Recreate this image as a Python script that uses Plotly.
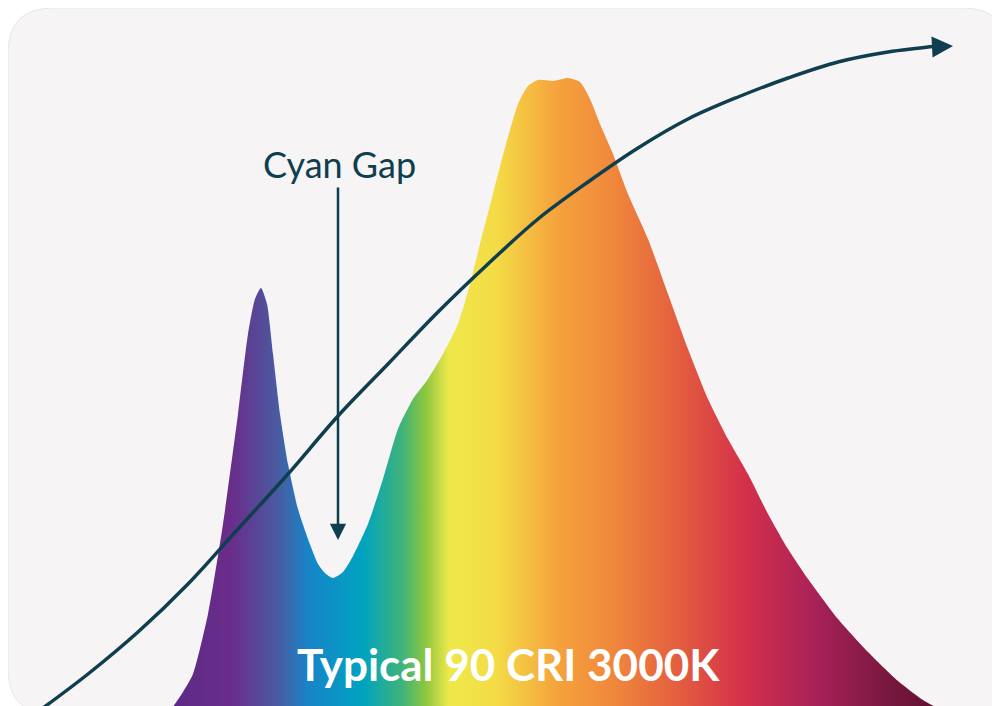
import plotly.graph_objects as go

# Canvas coords: x 0..1000 left->right, y 0..706 bottom->top
W, H = 1000, 706

# spectrum outline (x px, height above bottom px)
spec_x = [160, 175, 185, 200, 215, 230, 240, 247, 253, 259, 265, 272, 280, 290, 300, 310, 318, 325,
          335, 345, 360, 375, 390, 405, 420, 435, 450, 462, 472, 485, 498, 510, 520, 530, 545,
          560, 572, 582, 592, 605, 620, 640, 660, 680, 700, 720, 740, 760, 780, 800, 830,
          860, 890, 915, 940]
spec_y = [0, 22, 40, 100, 190, 300, 380, 415, 426, 410, 360, 300, 250, 205, 175, 150, 140, 136,
          142, 158, 190, 235, 285, 315, 335, 360, 390, 430, 470, 520, 570, 610, 628, 634, 633,
          636, 632, 615, 590, 560, 520, 475, 420, 365, 315, 275, 240, 200, 165, 135, 95,
          62, 33, 14, 0]

# the s-curve
curve_x = [35, 80, 130, 180, 230, 280, 330, 380, 430, 480, 530, 580, 630, 680, 730, 780, 830, 880, 930]
curve_y = [6, 40, 82, 130, 185, 240, 298, 350, 402, 450, 495, 532, 566, 595, 617, 636, 652, 662, 668]

spec_colors = [
    [0.00, "#5B2A86"], [0.08, "#6A2C8A"], [0.14, "#4A5AA0"], [0.18, "#1784C8"],
    [0.25, "#00A3C0"], [0.30, "#3FB37A"], [0.33, "#8CC63F"], [0.36, "#EEE84A"],
    [0.42, "#F4DC46"], [0.50, "#F5A23C"], [0.57, "#F0883C"], [0.65, "#E4603E"],
    [0.74, "#D4304B"], [0.83, "#A82158"], [0.92, "#7A1840"], [1.00, "#5A0F2A"],
]

fig = go.Figure()
fig.add_trace(go.Scatter(
    x=spec_x, y=spec_y, mode="lines", line=dict(width=0, shape="spline", smoothing=0.6),
    fill="tozeroy", fillgradient=dict(type="horizontal", colorscale=spec_colors),
    hoverinfo="skip"))
fig.add_trace(go.Scatter(
    x=curve_x, y=curve_y, mode="lines", line=dict(color="#0F3E4F", width=3.5, shape="spline"),
    hoverinfo="skip"))

# arrow tip on the curve
fig.add_annotation(x=945, y=668, ax=925, ay=667, xref="x", yref="y", axref="x", ayref="y",
                   showarrow=True, arrowhead=2, arrowsize=1.2, arrowwidth=3.5,
                   arrowcolor="#0F3E4F", text="")
# cyan gap pointer
fig.add_annotation(x=330, y=174, ax=330, ay=528, xref="x", yref="y", axref="x", ayref="y",
                   showarrow=True, arrowhead=2, arrowsize=1.3, arrowwidth=2.5,
                   arrowcolor="#0F3E4F", text="")
fig.add_annotation(x=331, y=550, text="Cyan Gap", showarrow=False,
                   font=dict(family="Lato", size=36, color="#0F3E4F"))
fig.add_annotation(x=500, y=50, text="<b>Typical 90 CRI 3000K</b>", showarrow=False,
                   font=dict(family="Lato", size=44, color="white"))

r = 45
path = (f"M {r},0 L {W-r},0 Q {W},0 {W},{r} L {W},{H-r} Q {W},{H} {W-r},{H} "
        f"L {r},{H} Q 0,{H} 0,{H-r} L 0,{r} Q 0,0 {r},0 Z")
fig.add_shape(type="path", path=path, xref="x", yref="y", fillcolor="#F6F4F5",
              line=dict(width=1, color="#E8E6E8"), layer="below")

fig.update_layout(
    width=W, height=H, margin=dict(l=0, r=0, t=0, b=0),
    paper_bgcolor="white", plot_bgcolor="rgba(0,0,0,0)", showlegend=False,
    xaxis=dict(range=[0, W], visible=False, fixedrange=True),
    yaxis=dict(range=[0, H], visible=False, fixedrange=True),
)
fig.write_html("out.html")
